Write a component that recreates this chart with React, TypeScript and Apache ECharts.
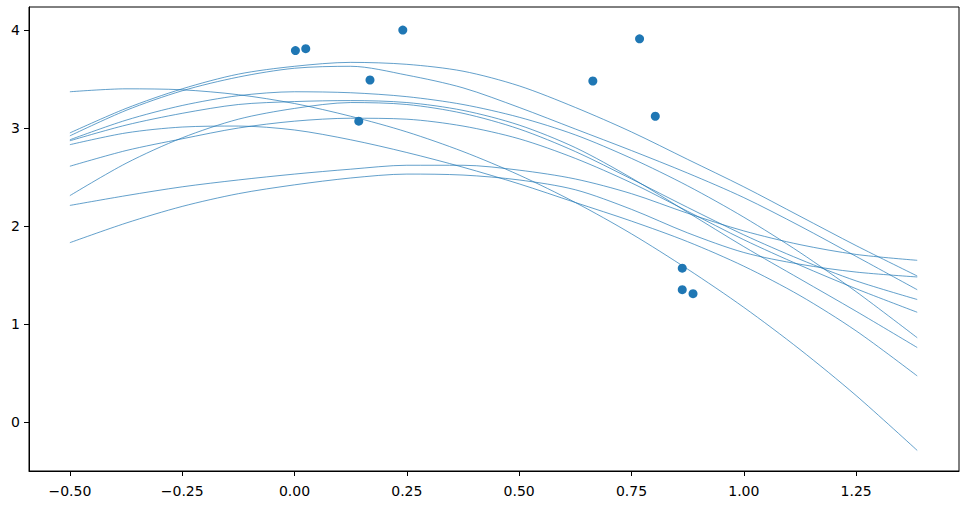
import React, { useEffect, useRef } from "react";
import * as echarts from "echarts";

const xGrid = [-0.5, -0.375, -0.25, -0.125, 0, 0.125, 0.25, 0.375, 0.5, 0.625, 0.75, 0.875, 1.0, 1.125, 1.25, 1.386];

const curveA = [3.37, 3.4, 3.39, 3.34, 3.25, 3.12, 2.96, 2.76, 2.52, 2.24, 1.92, 1.56, 1.17, 0.74, 0.27, -0.29];
const curveB = [2.95, 3.2, 3.4, 3.55, 3.63, 3.67, 3.65, 3.58, 3.43, 3.21, 2.96, 2.68, 2.4, 2.1, 1.8, 1.49];
const curveC = [2.92, 3.18, 3.38, 3.52, 3.61, 3.63, 3.54, 3.41, 3.21, 2.99, 2.77, 2.54, 2.29, 2.0, 1.69, 1.35];
const curveD = [2.88, 3.08, 3.23, 3.33, 3.37, 3.36, 3.32, 3.24, 3.11, 2.93, 2.69, 2.41, 2.09, 1.73, 1.33, 0.86];
const curveE = [2.87, 3.03, 3.15, 3.24, 3.27, 3.28, 3.26, 3.18, 3.03, 2.8, 2.49, 2.14, 1.79, 1.46, 1.13, 0.76];
const curveF = [2.83, 2.95, 3.01, 3.02, 2.98, 2.88, 2.75, 2.6, 2.43, 2.24, 2.05, 1.84, 1.59, 1.29, 0.93, 0.47];
const curveG = [2.61, 2.77, 2.89, 3.0, 3.07, 3.1, 3.09, 3.02, 2.89, 2.69, 2.44, 2.15, 1.86, 1.6, 1.36, 1.12];
const curveH = [2.31, 2.64, 2.9, 3.09, 3.2, 3.26, 3.24, 3.15, 2.99, 2.76, 2.48, 2.19, 1.91, 1.66, 1.44, 1.25];
const curveI = [2.21, 2.31, 2.4, 2.47, 2.53, 2.58, 2.62, 2.62, 2.57, 2.48, 2.33, 2.13, 1.95, 1.81, 1.71, 1.65];
const curveJ = [1.83, 2.03, 2.2, 2.33, 2.42, 2.49, 2.53, 2.52, 2.47, 2.37, 2.17, 1.93, 1.73, 1.61, 1.53, 1.48];

const curves = [curveA, curveB, curveC, curveD, curveE, curveF, curveG, curveH, curveI, curveJ];

const pointX = [0.002, 0.025, 0.241, 0.168, 0.143, 0.664, 0.768, 0.803, 0.863, 0.863, 0.887];
const pointY = [3.79, 3.81, 4.0, 3.49, 3.07, 3.48, 3.91, 3.12, 1.57, 1.35, 1.31];

const xTicks = [-0.5, -0.25, 0, 0.25, 0.5, 0.75, 1.0, 1.25];
const yTicks = [0, 1, 2, 3, 4];

const BLUE = "#1f77b4";
const FONT = "DejaVu Sans";

export default function App() {
  const ref = useRef<HTMLDivElement>(null);

  useEffect(() => {
    document.body.style.margin = "0";
    const chart = echarts.init(ref.current as HTMLDivElement, null, { renderer: "svg" });

    const lineSeries = curves.map((ys) => ({
      type: "line",
      data: xGrid.map((x, i) => [x, ys[i]]),
      smooth: 0.3,
      showSymbol: false,
      symbol: "none",
      lineStyle: { color: BLUE, width: 0.7 },
      z: 2,
      silent: true,
    }));

    const axisText = {
      color: "#000",
      fontSize: 14,
      fontFamily: FONT,
    };

    chart.setOption({
      animation: false,
      backgroundColor: "#fff",
      grid: {
        left: 29,
        right: 9,
        top: 7,
        bottom: 34,
        show: true,
        borderColor: "#000",
        borderWidth: 1,
        backgroundColor: "transparent",
      },
      xAxis: {
        type: "value",
        min: -0.591,
        max: 1.479,
        splitLine: { show: false },
        axisLine: { show: true, onZero: false, lineStyle: { color: "#000", width: 1 } },
        axisTick: { show: true, length: 5, customValues: xTicks, lineStyle: { color: "#000", width: 1 } },
        axisLabel: {
          ...axisText,
          margin: 13,
          customValues: xTicks,
          formatter: (v: number) => v.toFixed(2).replace("-", "\u2212"),
        },
      },
      yAxis: {
        type: "value",
        min: -0.5,
        max: 4.235,
        splitLine: { show: false },
        axisLine: { show: true, onZero: false, lineStyle: { color: "#000", width: 1 } },
        axisTick: { show: true, length: 5, customValues: yTicks, lineStyle: { color: "#000", width: 1 } },
        axisLabel: {
          ...axisText,
          margin: 9,
          customValues: yTicks,
          formatter: (v: number) => String(v).replace("-", "\u2212"),
        },
      },
      series: [
        ...lineSeries,
        {
          type: "scatter",
          data: pointX.map((x, i) => [x, pointY[i]]),
          symbolSize: 9,
          itemStyle: { color: BLUE, opacity: 1 },
          z: 3,
          silent: true,
        },
      ],
    });

    return () => chart.dispose();
  }, []);

  return <div ref={ref} style={{ width: 968, height: 505 }} />;
}
